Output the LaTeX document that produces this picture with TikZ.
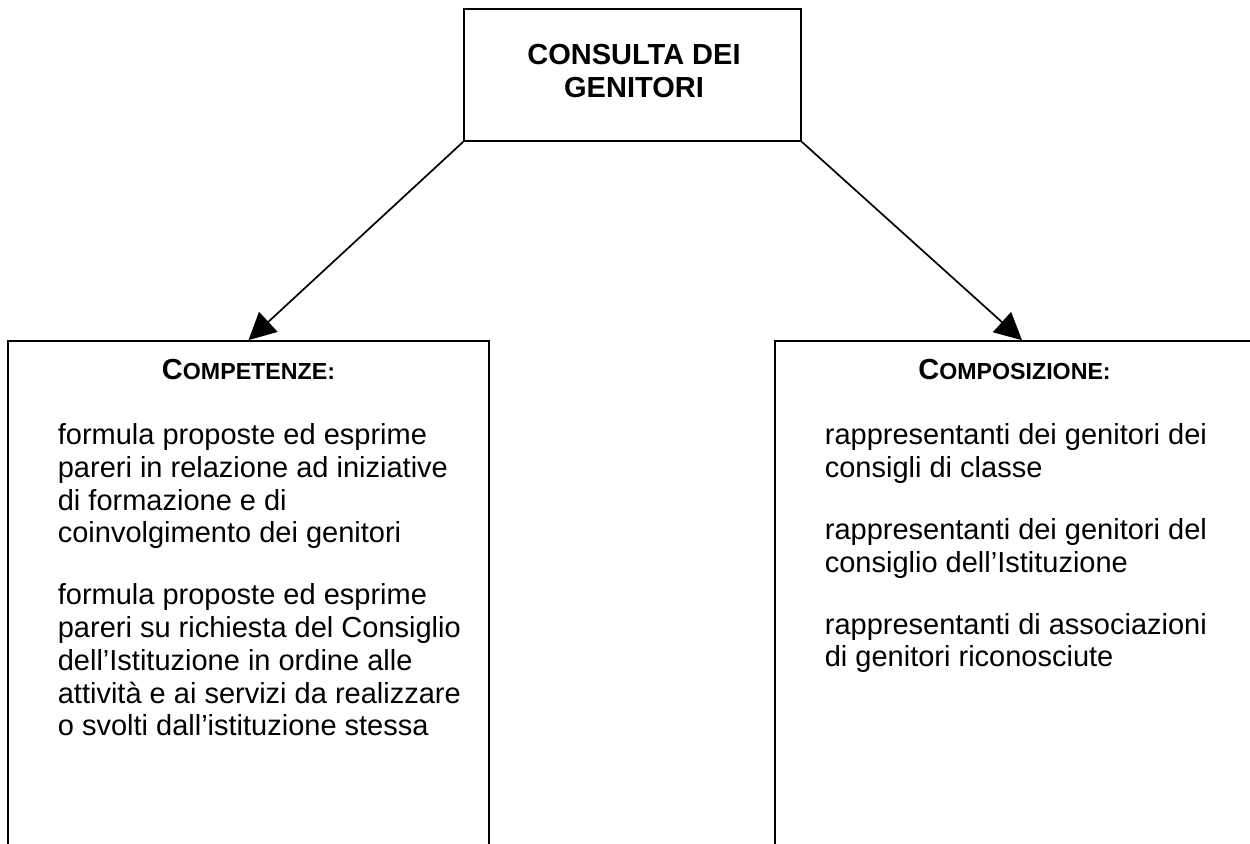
\documentclass[tikz,border=0pt]{standalone}
\usepackage{fontspec}
\setmainfont{Liberation Sans}
\usetikzlibrary{arrows.meta}

\begin{document}
\begin{tikzpicture}[x=0.5pt,y=0.5pt,line width=0.85pt]
    \clip (0,0) rectangle (1250,843);

    % riquadro principale
    \node[draw,minimum width=168.5pt,minimum height=66pt,inner sep=0pt] (consulta) at (632.5,768) {};
    \node[anchor=north,align=center,inner sep=0pt,font=\bfseries\fontsize{14.5}{16.65}\selectfont] (titolo) at (634,799.6) {CONSULTA DEI\\GENITORI};

    % riquadri sotto
    \node[draw,minimum width=240.5pt,minimum height=261pt,inner sep=0pt] (competenze) at (248.5,241) {};
    \node[draw,minimum width=239.5pt,minimum height=261pt,inner sep=0pt] (composizione) at (1014.5,241) {};

    % frecce
    \draw[-{Triangle[length=13.5pt,width=13.5pt]}] (consulta.south west) -- (competenze.north);
    \draw[-{Triangle[length=13.5pt,width=13.5pt]}] (consulta.south east) -- ([xshift=3.75pt]composizione.north);

    % intestazioni
    \node[anchor=base,inner sep=0pt,font=\bfseries\fontsize{14.5}{16}\selectfont] (compet) at (248.5,464) {C\fontsize{11.6}{14}\selectfont OMPETENZE:};
    \node[anchor=base,inner sep=0pt,font=\bfseries\fontsize{14.5}{16}\selectfont] (compos) at (1014.5,464) {C\fontsize{11.6}{14}\selectfont OMPOSIZIONE:};

    % testo
    \node[anchor=north west,align=left,inner sep=0pt,font=\fontsize{14.5}{16.35}\selectfont] (testoa) at (57,420) {formula proposte ed esprime\\pareri in relazione ad iniziative\\di formazione e di\\coinvolgimento dei genitori\\[14.65pt]formula proposte ed esprime\\pareri su richiesta del Consiglio\\dell’Istituzione in ordine alle\\attività e ai servizi da realizzare\\o svolti dall’istituzione stessa};
    \node[anchor=north west,align=left,inner sep=0pt,font=\fontsize{14.5}{16.35}\selectfont] (testob) at (824,420) {rappresentanti dei genitori dei\\consigli di classe\\[14.65pt]rappresentanti dei genitori del\\consiglio dell’Istituzione\\[14.65pt]rappresentanti di associazioni\\di genitori riconosciute};
\end{tikzpicture}
\end{document}
